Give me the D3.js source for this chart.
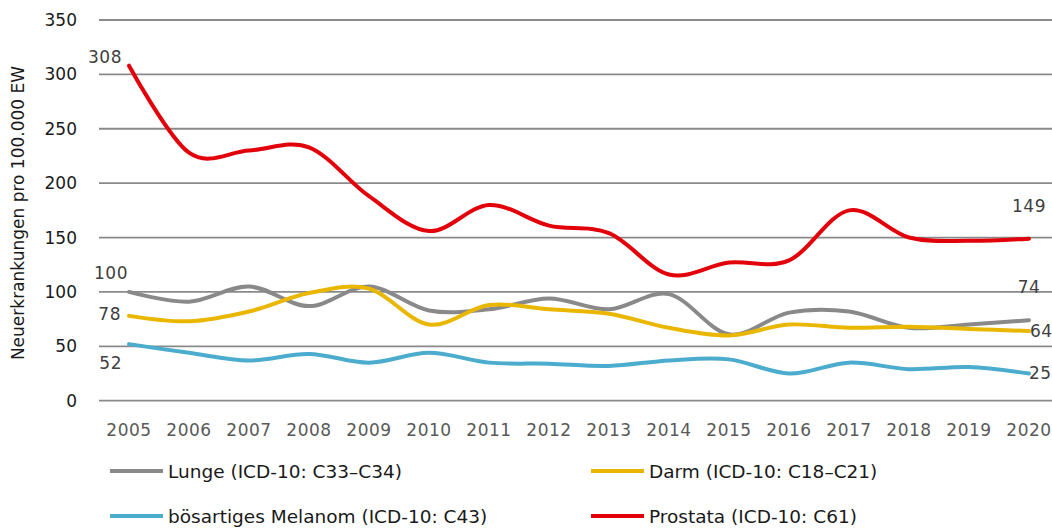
<!DOCTYPE html>
<html lang="de">
<head>
<meta charset="UTF-8">
<title>Neuerkrankungen</title>
<script src="https://d3js.org/d3.v7.min.js"></script>
<style>
body { margin: 0; background: #fff; }
svg { display: block; font-family: "DejaVu Sans", sans-serif; }
.tick-y { font-size: 17px; fill: #1a1a1a; }
.tick-x { font-size: 17px; fill: #595959; letter-spacing: 0.5px; }
.dlabel { font-size: 17px; fill: #404040; letter-spacing: 0.5px; }
.legend text { font-size: 18.5px; fill: #1a1a1a; }
</style>
</head>
<body>
<svg></svg>
<script>
// years on the x axis
let years = [2005, 2006, 2007, 2008, 2009, 2010, 2011, 2012, 2013, 2014, 2015, 2016, 2017, 2018, 2019, 2020];

// incidence per 100.000 inhabitants
let lunge    = [100, 91, 105, 87, 105, 83, 84, 94, 84, 98, 61, 81, 82, 67, 70, 74];
let darm     = [78, 73, 82, 99, 103, 70, 88, 84, 80, 67, 60, 70, 67, 68, 66, 64];
let melanom  = [52, 44, 37, 43, 35, 44, 35, 34, 32, 37, 38, 25, 35, 29, 31, 25];
let prostata = [308, 228, 230, 233, 188, 156, 180, 161, 154, 116, 127, 129, 175, 150, 147, 149];

let yTicks = [0, 50, 100, 150, 200, 250, 300, 350];

let series = [
  { name: "Lunge (ICD-10: C33\u2013C34)", values: lunge, color: "#898989" },
  { name: "Darm (ICD-10: C18\u2013C21)", values: darm, color: "#EAB700" },
  { name: "bösartiges Melanom (ICD-10: C43)", values: melanom, color: "#4BACCE" },
  { name: "Prostata (ICD-10: C61)", values: prostata, color: "#E2000A" }
];

let width = 1052;
let height = 528;

let svg = d3.select("svg")
  .attr("width", width)
  .attr("height", height);

let x = d3.scalePoint()
  .domain(years)
  .range([129, 1029]);
let y = d3.scaleLinear()
  .domain([0, 350])
  .range([400.7, 20]);

// grid lines
svg.append("g").selectAll("line").data(yTicks).enter().append("line")
  .attr("x1", 99)
  .attr("x2", width)
  .attr("y1", d => y(d))
  .attr("y2", d => y(d))
  .attr("stroke", "#8a8a8a")
  .attr("stroke-width", 1.8);

// y tick labels
svg.append("g").selectAll("text").data(yTicks).enter().append("text")
  .attr("class", "tick-y")
  .attr("x", 77)
  .attr("y", d => y(d) + 6)
  .attr("text-anchor", "end")
  .text(d => d);

// x tick labels
svg.append("g").selectAll("text").data(years).enter().append("text")
  .attr("class", "tick-x")
  .attr("x", d => x(d))
  .attr("y", 436)
  .attr("text-anchor", "middle")
  .text(d => d);

// y axis title
svg.append("text")
  .attr("transform", "translate(24,213) rotate(-90)")
  .attr("text-anchor", "middle")
  .style("font-size", "17px")
  .style("fill", "#1a1a1a")
  .text("Neuerkrankungen pro 100.000 EW");

// lines
let line = d3.line()
  .x((d, i) => x(years[i]))
  .y(d => y(d))
  .curve(d3.curveCardinal.tension(0));

series.forEach(s => {
  svg.append("path")
    .attr("d", line(s.values))
    .attr("fill", "none")
    .attr("stroke", s.color)
    .attr("stroke-width", 4)
    .attr("stroke-linecap", "round");
});

// first / last value labels
function addLabel(val, year, dx, dy, anchor) {
  svg.append("text")
    .attr("class", "dlabel")
    .attr("x", x(year) + dx)
    .attr("y", y(val) + dy)
    .attr("text-anchor", anchor)
    .text(val);
}
addLabel(prostata[0], 2005, -7, -3, "end");
addLabel(lunge[0], 2005, -1, -13, "end");
addLabel(darm[0], 2005, -8, 4, "end");
addLabel(melanom[0], 2005, -7, 25, "end");
addLabel(prostata[15], 2020, 0, -27, "middle");
addLabel(lunge[15], 2020, 0, -27, "middle");
addLabel(darm[15], 2020, 1, 6, "start");
addLabel(melanom[15], 2020, 0, 5, "start");

// legend
let legendPos = [[110, 471], [591, 471], [110, 516], [591, 516]];
let legend = svg.append("g").attr("class", "legend");
series.forEach((s, i) => {
  let p = legendPos[i];
  legend.append("line")
    .attr("x1", p[0]).attr("x2", p[0] + 53)
    .attr("y1", p[1]).attr("y2", p[1])
    .attr("stroke", s.color)
    .attr("stroke-width", 4);
  legend.append("text")
    .attr("x", p[0] + 58)
    .attr("y", p[1] + 6.5)
    .text(s.name);
});
</script>
</body>
</html>
